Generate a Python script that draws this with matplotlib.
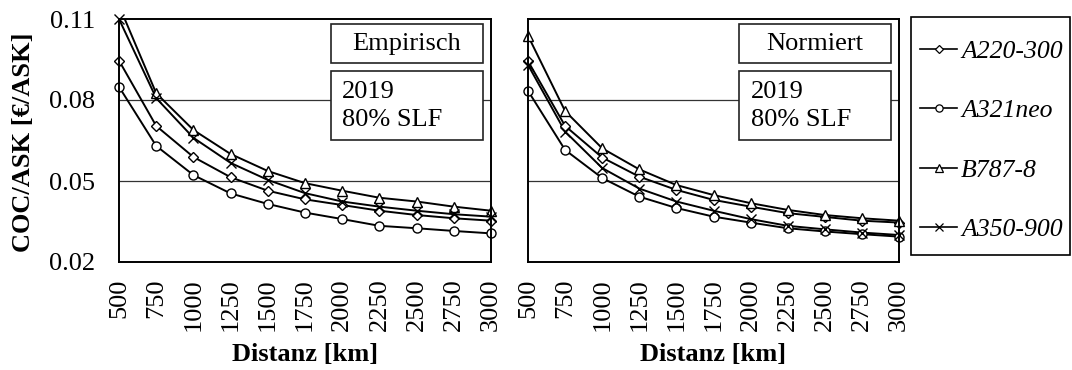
import matplotlib
matplotlib.use("Agg")
import matplotlib.pyplot as plt
from matplotlib.patches import Rectangle
from matplotlib.lines import Line2D

# ---------------- data ----------------
distances = [500, 750, 1000, 1250, 1500, 1750, 2000, 2250, 2500, 2750, 3000]
tick_labels = ["500", "750", "1000", "1250", "1500", "1750", "2000", "2250", "2500", "2750", "3000"]
series_names = ["A220-300", "A321neo", "B787-8", "A350-900"]

emp_a220 = [0.0946, 0.0704, 0.0589, 0.0514, 0.0464, 0.0432, 0.0411, 0.0390, 0.0374, 0.0362, 0.0353]
emp_a321 = [0.0849, 0.0630, 0.0522, 0.0454, 0.0415, 0.0383, 0.0359, 0.0334, 0.0325, 0.0315, 0.0306]
emp_b787 = [0.1150, 0.0825, 0.0689, 0.0600, 0.0537, 0.0492, 0.0464, 0.0438, 0.0424, 0.0405, 0.0390]
emp_a350 = [0.1100, 0.0807, 0.0660, 0.0567, 0.0504, 0.0455, 0.0424, 0.0405, 0.0390, 0.0377, 0.0368]

norm_a220 = [0.0944, 0.0704, 0.0587, 0.0516, 0.0467, 0.0430, 0.0405, 0.0381, 0.0367, 0.0353, 0.0346]
norm_a321 = [0.0834, 0.0615, 0.0511, 0.0442, 0.0400, 0.0368, 0.0346, 0.0325, 0.0313, 0.0303, 0.0294]
norm_b787 = [0.1038, 0.0759, 0.0621, 0.0543, 0.0485, 0.0448, 0.0418, 0.0393, 0.0374, 0.0362, 0.0353]
norm_a350 = [0.0930, 0.0683, 0.0548, 0.0472, 0.0424, 0.0390, 0.0359, 0.0334, 0.0321, 0.0309, 0.0300]

y_ticks = [0.02, 0.05, 0.08, 0.11]
y_tick_labels = ["0.02", "0.05", "0.08", "0.11"]
panel_titles = ["Empirisch", "Normiert"]
info_text = "2019\n80% SLF"

# ---------------- style ----------------
plt.rcParams["font.family"] = ["Liberation Serif", "DejaVu Serif"]
FS = 19
markers = {"A220-300": dict(marker="D", markersize=5.5),
           "A321neo": dict(marker="o", markersize=6.5),
           "B787-8": dict(marker="^", markersize=6.5),
           "A350-900": dict(marker="x", markersize=6.5)}

W, H = 1072, 370
fig = plt.figure(figsize=(W / 100, H / 100), dpi=100)

ax1 = fig.add_axes([119 / W, 108 / H, 372 / W, 243 / H])
ax2 = fig.add_axes([528 / W, 108 / H, 371 / W, 243 / H])

panels = [
    (ax1, [emp_a220, emp_a321, emp_b787, emp_a350], panel_titles[0]),
    (ax2, [norm_a220, norm_a321, norm_b787, norm_a350], panel_titles[1]),
]

for i, (ax, data, title) in enumerate(panels):
    ax.set_xlim(distances[0], distances[-1])
    ax.set_ylim(y_ticks[0], y_ticks[-1])
    for yv in y_ticks[1:-1]:
        ax.axhline(yv, color="#333333", lw=0.9, zorder=1)
    for name, vals in zip(series_names, data):
        ax.plot(distances, vals, color="black", lw=1.4, zorder=4)
        mk, = ax.plot(distances, vals, linestyle="none", color="black",
                      markerfacecolor="white", markeredgecolor="black",
                      markeredgewidth=1.0, zorder=5, clip_on=True,
                      **markers[name])
        mk.set_clip_path(Rectangle((-0.05, -0.05), 1.1, 1.075, transform=ax.transAxes))
    ax.set_xticks(distances)
    ax.set_xticklabels(tick_labels, rotation=90, fontsize=FS, va="top")
    ax.set_yticks(y_ticks)
    if i == 0:
        ax.set_yticklabels(y_tick_labels, fontsize=FS)
    else:
        ax.set_yticklabels([])
    ax.tick_params(axis="both", length=0)
    ax.tick_params(axis="x", pad=12)
    ax.tick_params(axis="y", pad=17)
    for sp in ax.spines.values():
        sp.set_linewidth(1.4)
        sp.set_color("black")
        sp.set_zorder(6)
    # annotation boxes
    ax.add_patch(Rectangle((0.570, 0.819), 0.408, 0.160, transform=ax.transAxes,
                           facecolor="white", edgecolor="#222222", lw=1.2, zorder=3))
    ax.text(0.774, 0.899, title, transform=ax.transAxes, fontsize=FS,
            ha="center", va="center", zorder=4)
    ax.add_patch(Rectangle((0.570, 0.502), 0.408, 0.284, transform=ax.transAxes,
                           facecolor="white", edgecolor="#222222", lw=1.2, zorder=3))
    ax.text(0.600, 0.642, info_text, transform=ax.transAxes, fontsize=FS,
            ha="left", va="center", linespacing=1.35, zorder=4)

# axis labels
fig.text(24 / W, 1 - 142 / H, "COC/ASK [€/ASK]", rotation=90, fontsize=FS,
         fontweight="bold", ha="center", va="center")
fig.text(305 / W, 1 - 361 / H, "Distanz [km]", fontsize=FS, fontweight="bold",
         ha="center", va="baseline")
fig.text(713.5 / W, 1 - 361 / H, "Distanz [km]", fontsize=FS, fontweight="bold",
         ha="center", va="baseline")

# legend
fig.patches.append(Rectangle((911 / W, 1 - 255 / H), 159 / W, 238 / H,
                             transform=fig.transFigure, facecolor="white",
                             edgecolor="black", lw=1.2, zorder=0))
handles = [Line2D([], [], color="black", lw=1.2, markerfacecolor="white",
                  markeredgecolor="black", markeredgewidth=0.9,
                  marker=markers[n]["marker"], markersize=markers[n]["markersize"] * 0.8)
           for n in series_names]
leg = fig.legend(handles, series_names, loc="upper left",
                 bbox_to_anchor=(915 / W, 1 - 35 / H), frameon=False,
                 prop={"family": "Liberation Serif", "style": "italic", "size": 18.5},
                 handlelength=1.45, handletextpad=0.15, labelspacing=1.41,
                 borderpad=0.2, borderaxespad=0)

fig.savefig("out.png", dpi=100)
